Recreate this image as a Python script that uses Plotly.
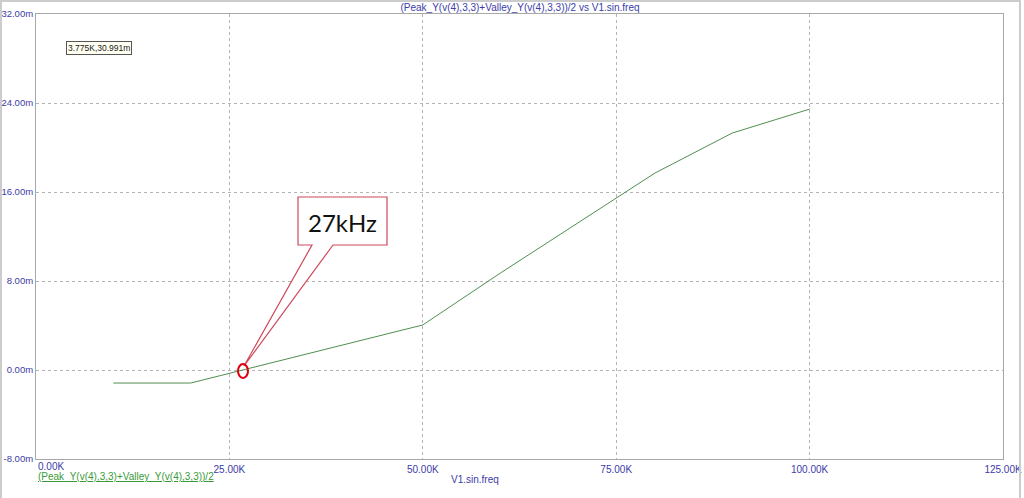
import plotly.graph_objects as go

# frequency sweep (kHz) and (Peak+Valley)/2 result (milli-units)
freq_k = [10, 20, 30, 40, 50, 60, 70, 80, 90, 100]
avg_m = [-1.17, -1.17, 0.57, 2.31, 4.05, 8.7, 13.2, 17.7, 21.3, 23.45]

x_ticks = [0, 25, 50, 75, 100, 125]
x_ticktext = ["0.00K", "25.00K", "50.00K", "75.00K", "100.00K", "125.00K"]
y_ticks = [-8, 0, 8, 16, 24, 32]
y_ticktext = ["-8.00m", "0.00m", "8.00m", "16.00m", "24.00m", "32.00m"]

blue = "#3c3ca8"
grey = "#a8a8a8"

fig = go.Figure()
fig.add_trace(go.Scatter(x=freq_k, y=avg_m, mode="lines",
                         line=dict(color="#4f8f4f", width=1),
                         showlegend=False, hoverinfo="skip"))

# pixel -> data helpers for annotation placement
def px_x(px):
    return (px - 36) / 967 * 125

def px_y(py):
    return (370 - py) / 445 * 40

# callout box with tail
bx0, bx1, by0, by1 = px_x(298), px_x(387), px_y(245), px_y(197)
t0, t1 = px_x(312), px_x(333)
tipx, tipy = px_x(244), px_y(366)
path = (f"M {bx0},{by1} L {bx1},{by1} L {bx1},{by0} L {t1},{by0} "
        f"L {tipx},{tipy} L {t0},{by0} L {bx0},{by0} Z")
fig.add_shape(type="path", path=path, xref="x", yref="y",
              line=dict(color="#d0485a", width=1.2), fillcolor="white")
fig.add_annotation(x=px_x(342), y=px_y(222), xref="x", yref="y",
                   text="27kHz", showarrow=False,
                   font=dict(family="Lato", size=24, color="#111111"))
# red marker ellipse
fig.add_shape(type="circle", xref="x", yref="y",
              x0=px_x(238), x1=px_x(248), y0=px_y(378), y1=px_y(364),
              line=dict(color="#e00010", width=2))

# outer window frame
fig.add_shape(type="rect", xref="paper", yref="paper",
              x0=(1 - 36) / 967, x1=(1020 - 36) / 967,
              y0=(459 - 502) / 445, y1=(459 - 1) / 445,
              line=dict(color="#cccccc", width=2), fillcolor="rgba(0,0,0,0)")

# cursor readout box
fig.add_annotation(x=(66 - 36) / 967, y=(459 - 48) / 445, xref="paper", yref="paper",
                   xanchor="left", yanchor="middle", text="3.775K,30.991m",
                   showarrow=False, bgcolor="#fffff2", bordercolor="#555555",
                   borderwidth=1, borderpad=1,
                   font=dict(family="Liberation Sans", size=8.5, color="#222222"))

# first x tick label (left aligned like the source)
fig.add_annotation(x=0, y=(459 - 466) / 445, xref="x", yref="paper",
                   xanchor="left", yanchor="middle", text="0.00K", showarrow=False,
                   font=dict(family="Liberation Sans", size=10, color=blue))

# trace label and x axis name
fig.add_annotation(x=0, y=(459 - 477) / 445, xref="x", yref="paper",
                   xanchor="left", yanchor="middle",
                   text="<u>(Peak_Y(v(4),3,3)+Valley_Y(v(4),3,3))/2</u>", showarrow=False,
                   font=dict(family="Liberation Sans", size=10, color="#3a9a3a"))
fig.add_annotation(x=(475 - 36) / 967, y=(459 - 487) / 445, xref="paper", yref="paper",
                   text="V1.sin.freq", showarrow=False,
                   font=dict(family="Liberation Sans", size=10, color=blue))

fig.update_layout(
    width=1024, height=498,
    margin=dict(l=36, r=21, t=14, b=39, autoexpand=False),
    paper_bgcolor="white", plot_bgcolor="white",
    title=dict(text="(Peak_Y(v(4),3,3)+Valley_Y(v(4),3,3))/2 vs V1.sin.freq",
               x=520 / 1024, xanchor="center", y=1 - 7 / 498, yanchor="middle",
               font=dict(family="Liberation Sans", size=10, color=blue)),
    font=dict(family="Liberation Sans", size=10, color=blue),
)

fig.update_xaxes(range=[0, 125], tickvals=x_ticks[1:], ticktext=x_ticktext[1:],
                 automargin=False,
                 showline=True, linecolor=grey, linewidth=1, mirror=True,
                 showgrid=True, gridcolor="#b4b4b4", griddash="dot", gridwidth=1,
                 zeroline=False, ticks="", ticklabelstandoff=1,
                 tickfont=dict(family="Liberation Sans", size=10, color=blue))
fig.update_yaxes(range=[-8, 32], tickvals=y_ticks, ticktext=y_ticktext,
                 automargin=False,
                 showline=True, linecolor=grey, linewidth=1, mirror=True,
                 showgrid=True, gridcolor="#b4b4b4", griddash="dot", gridwidth=1,
                 zeroline=False, ticks="", ticklabelstandoff=0,
                 tickfont=dict(family="Liberation Sans", size=9.5, color=blue))

# page body has a default 8px margin; drop it so the figure sits at the window corner
fig.write_html("out.html", config={"displayModeBar": False},
               post_script="document.body.style.margin='0';")
